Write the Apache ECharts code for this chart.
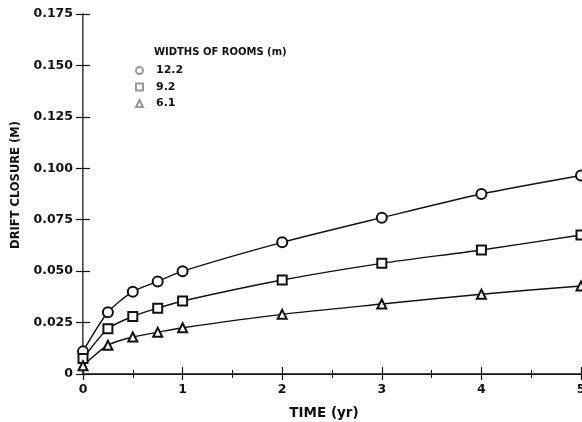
<!DOCTYPE html>
<html>
<head>
<meta charset="utf-8">
<script src="https://cdn.jsdelivr.net/npm/echarts@6/dist/echarts.min.js"></script>
<style>
  html, body { margin: 0; padding: 0; background: #fff; }
  #chart { width: 582px; height: 422px; }
</style>
</head>
<body>
<div id="chart"></div>
<script>
// time points (yr) and drift closure (m) for each room width
const timeYr = [0, 0.25, 0.5, 0.75, 1, 2, 3, 4, 5]
const width122 = [0.011, 0.030, 0.040, 0.045, 0.050, 0.064, 0.076, 0.0875, 0.0965]
const width92 = [0.0075, 0.022, 0.028, 0.032, 0.0355, 0.0457, 0.0538, 0.0603, 0.0676]
const width61 = [0.004, 0.014, 0.018, 0.0203, 0.0225, 0.029, 0.034, 0.0388, 0.0428]
const roomWidths = ['12.2', '9.2', '6.1']
const markers = ['emptyCircle', 'emptyRect', 'emptyTriangle']

const font = 'DejaVu Sans, Liberation Sans, sans-serif'
const ink = '#111'

function pairs(ys) {
  return timeYr.map((t, i) => [t, ys[i]])
}

const chart = echarts.init(document.getElementById('chart'))

const series = [width122, width92, width61].map((ys, i) => ({
  name: roomWidths[i],
  type: 'line',
  data: pairs(ys),
  smooth: 0.25,
  symbol: markers[i],
  symbolSize: i === 0 ? 10 : 9,
  clip: false,
  lineStyle: { color: ink, width: 1.4 },
  itemStyle: { color: ink, borderWidth: 1 }
}))

chart.setOption({
  animation: false,
  backgroundColor: '#fff',
  textStyle: { fontFamily: font },
  grid: { left: 83, right: 1, top: 14, bottom: 48, outerBoundsMode: 'none' },
  title: {
    text: 'WIDTHS OF ROOMS (m)',
    left: 154,
    top: 47,
    padding: 0,
    textStyle: { fontFamily: font, fontSize: 10, fontWeight: 'bold', color: ink }
  },
  legend: {
    orient: 'vertical',
    left: 135,
    top: 65,
    padding: 0,
    itemWidth: 7,
    itemHeight: 7,
    itemGap: 5.5,
    data: roomWidths.map((n, i) => ({ name: n, icon: markers[i] })),
    itemStyle: { color: '#999', borderWidth: 1 },
    lineStyle: { opacity: 0 },
    textStyle: {
      fontFamily: font, fontSize: 11, fontWeight: 'bold', color: ink,
      lineHeight: 7, padding: [0, 0, 0, 8]
    }
  },
  xAxis: [{
    type: 'value',
    min: 0,
    max: 5,
    interval: 1,
    name: 'TIME (yr)',
    nameLocation: 'middle',
    nameGap: 32,
    nameTextStyle: { fontFamily: font, fontSize: 13.5, fontWeight: 'bold', color: ink, padding: [0, 16, 0, 0] },
    axisLine: { lineStyle: { color: ink, width: 1.5 } },
    axisTick: { inside: true, length: 7, lineStyle: { color: ink, width: 1.2 } },
    minorTick: { show: true, splitNumber: 2, length: 4, lineStyle: { color: ink, width: 1 } },
    axisLabel: { margin: 9, fontSize: 12.5, fontWeight: 'bold', color: ink, fontFamily: font },
    splitLine: { show: false }
  }, {
    type: 'value',
    position: 'top',
    min: 0,
    max: 5,
    interval: 1,
    axisLine: { show: true, lineStyle: { color: ink, width: 1.2 } },
    axisTick: { inside: true, length: 6, lineStyle: { color: ink, width: 1.2 } },
    minorTick: { show: true, splitNumber: 2, length: 4, lineStyle: { color: ink, width: 1 } },
    axisLabel: { show: false },
    splitLine: { show: false }
  }],
  yAxis: [{
    type: 'value',
    min: 0,
    max: 0.175,
    interval: 0.025,
    name: 'DRIFT CLOSURE (M)',
    nameLocation: 'middle',
    nameGap: 61,
    nameTextStyle: { fontFamily: font, fontSize: 11.5, fontWeight: 'bold', color: ink, padding: [0, 0, 0, 18] },
    axisLine: { show: true, lineStyle: { color: ink, width: 1.5 } },
    axisTick: { inside: true, length: 7, lineStyle: { color: ink, width: 1.2 } },
    axisLabel: {
      margin: 10,
      fontSize: 12.5,
      fontWeight: 'bold',
      color: ink,
      fontFamily: font,
      formatter: v => (v === 0 ? '0' : v.toFixed(3))
    },
    splitLine: { show: false }
  }, {
    type: 'value',
    position: 'right',
    min: 0,
    max: 0.175,
    interval: 0.025,
    axisLine: { show: true, lineStyle: { color: '#888', width: 1 } },
    axisTick: { inside: true, length: 7, lineStyle: { color: ink, width: 1.2 } },
    axisLabel: { show: false },
    splitLine: { show: false }
  }],
  series: series
})
</script>
</body>
</html>
